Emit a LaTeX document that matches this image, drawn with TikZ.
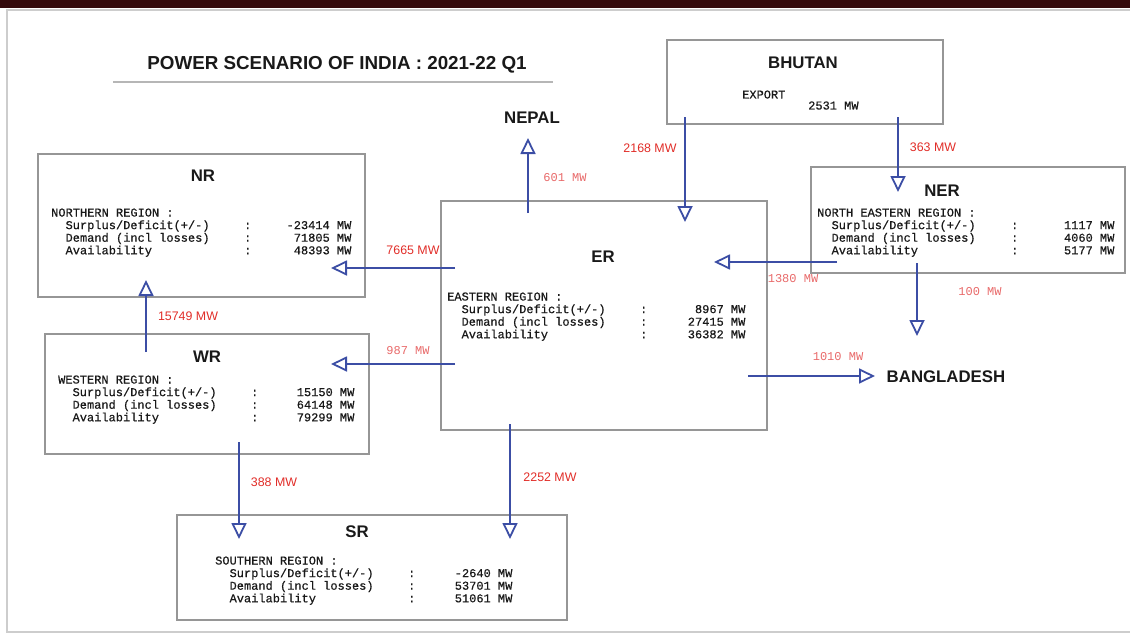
\documentclass[tikz,border=0pt]{standalone}
\usepackage{fontspec}
\usepackage{array}
\setmainfont{Liberation Sans}
\setsansfont{Liberation Sans}
\setmonofont{Liberation Mono}
\newfontfamily\infofont{Liberation Mono}[FakeBold=0.5]
\usetikzlibrary{arrows.meta}

\definecolor{flowblue}{RGB}{60,78,165}
\definecolor{mwred}{RGB}{225,45,40}
\definecolor{mwpink}{RGB}{232,105,105}
\definecolor{boxgray}{RGB}{150,150,150}
\definecolor{framegray}{RGB}{205,205,205}
\definecolor{topbar}{RGB}{52,10,12}
\definecolor{inkblack}{RGB}{25,25,25}

\tikzset{
  regbox/.style={draw=boxgray, line width=1.2pt, inner sep=0pt},
  head/.style={text=inkblack, font=\sffamily\bfseries\fontsize{16.8}{18}\selectfont, inner sep=0pt},
  info/.style={text=inkblack, font=\infofont\fontsize{12}{12.6}\selectfont, inner sep=0pt, anchor=base west},
  flow/.style={draw=flowblue, line width=1.8pt, -{Triangle[open, length=16pt, width=15pt]}},
  mwsans/.style={text=mwred, font=\sffamily\fontsize{12.4}{14}\selectfont, inner sep=0pt},
  mwtt/.style={text=mwpink, font=\ttfamily\fontsize{12}{14}\selectfont, inner sep=0pt},
}

\begin{document}
\begin{tikzpicture}[x=1pt, y=-1pt]
  \useasboundingbox (0,0) rectangle (1130,634);

  % page frame
  \fill[topbar] (0,0) rectangle (1130,8);
  \draw[framegray, line width=1.5pt] (1130,10) -- (7,10) -- (7,632) -- (1130,632);

  % title
  \node[text=inkblack, font=\sffamily\bfseries\fontsize{18.8}{20}\selectfont, inner sep=0pt] (title) at (337,65) {POWER SCENARIO OF INDIA : 2021-22 Q1};
  \draw[boxgray!70, line width=1.5pt] (113,82) -- (553,82);

  % region boxes
  \node[regbox, minimum width=276pt, minimum height=84pt] (bt) at (805,82) {};
  \node[regbox, minimum width=327pt, minimum height=143pt] (nr) at (201.5,225.5) {};
  \node[regbox, minimum width=326pt, minimum height=229pt] (er) at (604,315.5) {};
  \node[regbox, minimum width=314pt, minimum height=106pt] (ner) at (968,220) {};
  \node[regbox, minimum width=324pt, minimum height=120pt] (wr) at (207,394) {};
  \node[regbox, minimum width=390pt, minimum height=105pt] (sr) at (372,567.5) {};

  % headings
  \node[head] (btlbl) at (803,63) {BHUTAN};
  \node[head] (nrlbl) at (203,176) {NR};
  \node[head] (erlbl) at (603,257) {ER};
  \node[head] (nerlbl) at (942,191) {NER};
  \node[head] (wrlbl) at (207,357) {WR};
  \node[head] (srlbl) at (357,532) {SR};
  \node[head] (np) at (532,118) {NEPAL};
  \node[head] (bd) at (946,377) {BANGLADESH};

  % bhutan export
  \node[info] (btexp) at (742,98.5) {EXPORT};
  \node[info] (btval) at (808,109.5) {2531 MW};

  % region figures
  \node[info] (nrtxt) at (51,216.5) {\begin{tabular}[t]{@{}p{193pt}@{}l@{}>{\raggedleft\arraybackslash}p{100pt}@{}}
    NORTHERN REGION :\\
    \hspace*{14.4pt}Surplus/Deficit(+/-) & : & -23414 MW\\
    \hspace*{14.4pt}Demand (incl losses) & : & 71805 MW\\
    \hspace*{14.4pt}Availability & : & 48393 MW
  \end{tabular}};
  \node[info] (ertxt) at (447,300.5) {\begin{tabular}[t]{@{}p{193pt}@{}l@{}>{\raggedleft\arraybackslash}p{98pt}@{}}
    EASTERN REGION :\\
    \hspace*{14.4pt}Surplus/Deficit(+/-) & : & 8967 MW\\
    \hspace*{14.4pt}Demand (incl losses) & : & 27415 MW\\
    \hspace*{14.4pt}Availability & : & 36382 MW
  \end{tabular}};
  \node[info] (nertxt) at (817,216.5) {\begin{tabular}[t]{@{}p{194pt}@{}l@{}>{\raggedleft\arraybackslash}p{96pt}@{}}
    NORTH EASTERN REGION :\\
    \hspace*{14.4pt}Surplus/Deficit(+/-) & : & 1117 MW\\
    \hspace*{14.4pt}Demand (incl losses) & : & 4060 MW\\
    \hspace*{14.4pt}Availability & : & 5177 MW
  \end{tabular}};
  \node[info] (wrtxt) at (58,383.5) {\begin{tabular}[t]{@{}p{193pt}@{}l@{}>{\raggedleft\arraybackslash}p{96pt}@{}}
    WESTERN REGION :\\
    \hspace*{14.4pt}Surplus/Deficit(+/-) & : & 15150 MW\\
    \hspace*{14.4pt}Demand (incl losses) & : & 64148 MW\\
    \hspace*{14.4pt}Availability & : & 79299 MW
  \end{tabular}};
  \node[info] (srtxt) at (215,564.5) {\begin{tabular}[t]{@{}p{193pt}@{}l@{}>{\raggedleft\arraybackslash}p{97pt}@{}}
    SOUTHERN REGION :\\
    \hspace*{14.4pt}Surplus/Deficit(+/-) & : & -2640 MW\\
    \hspace*{14.4pt}Demand (incl losses) & : & 53701 MW\\
    \hspace*{14.4pt}Availability & : & 51061 MW
  \end{tabular}};

  % flow ends
  \coordinate (erNp) at (528,213);
  \coordinate (npIn) at (528,138);
  \coordinate (btEr) at (685,117);
  \coordinate (erIn) at (685,222);
  \coordinate (btNer) at (898,117);
  \coordinate (nerIn) at (898,192);
  \coordinate (nerEr) at (837,262);
  \coordinate (erInB) at (714,262);
  \coordinate (nerBd) at (917,263);
  \coordinate (bdInA) at (917,336);
  \coordinate (erBd) at (748,376);
  \coordinate (bdInB) at (875,376);
  \coordinate (erNr) at (455,268);
  \coordinate (nrInA) at (331,268);
  \coordinate (erWr) at (455,364);
  \coordinate (wrIn) at (331,364);
  \coordinate (wrNr) at (146,352);
  \coordinate (nrInB) at (146,280);
  \coordinate (wrSr) at (239,442);
  \coordinate (srInA) at (239,539);
  \coordinate (erSr) at (510,424);
  \coordinate (srInB) at (510,539);

  % flows
  \draw[flow] (erNp) -- (npIn);
  \draw[flow] (btEr) -- (erIn);
  \draw[flow] (btNer) -- (nerIn);
  \draw[flow] (nerEr) -- (erInB);
  \draw[flow] (nerBd) -- (bdInA);
  \draw[flow] (erBd) -- (bdInB);
  \draw[flow] (erNr) -- (nrInA);
  \draw[flow] (erWr) -- (wrIn);
  \draw[flow] (wrNr) -- (nrInB);
  \draw[flow] (wrSr) -- (srInA);
  \draw[flow] (erSr) -- (srInB);

  % flow values
  \node[mwtt] (fNp) at (565,178) {601 MW};
  \node[mwsans] (fBtEr) at (650,148) {2168 MW};
  \node[mwsans] (fBtNer) at (933,147) {363 MW};
  \node[mwtt] (fNerEr) at (793,279) {1380 MW};
  \node[mwtt] (fNerBd) at (980,292) {100 MW};
  \node[mwtt] (fErBd) at (838,357) {1010 MW};
  \node[mwsans] (fErNr) at (413,250) {7665 MW};
  \node[mwtt] (fErWr) at (408,351) {987 MW};
  \node[mwsans] (fWrNr) at (188,316) {15749 MW};
  \node[mwsans] (fWrSr) at (274,482) {388 MW};
  \node[mwsans] (fErSr) at (550,477) {2252 MW};
\end{tikzpicture}
\end{document}
